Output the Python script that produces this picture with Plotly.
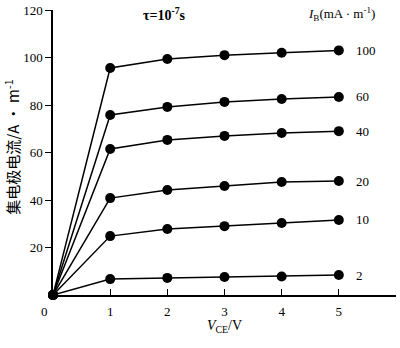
import plotly.graph_objects as go

vce = [0, 1, 2, 3, 4, 5]
ib_labels = ["100", "60", "40", "20", "10", "2"]
curves = {
    "100": [0, 95.6, 99.4, 101.0, 102.0, 103.0],
    "60":  [0, 75.8, 79.2, 81.3, 82.5, 83.4],
    "40":  [0, 61.5, 65.3, 67.0, 68.2, 69.0],
    "20":  [0, 40.8, 44.2, 45.9, 47.6, 48.0],
    "10":  [0, 24.8, 27.8, 29.0, 30.3, 31.6],
    "2":   [0, 6.7, 7.2, 7.6, 7.8, 8.4],
}
x_ticks = [1, 2, 3, 4, 5, 6]
x_ticktext = ["1", "2", "3", "4", "5", " "]
y_ticks = [20, 40, 60, 80, 100, 120]

FONT = "Liberation Serif, Times New Roman, serif"
fig = go.Figure()
for lab in ib_labels:
    fig.add_trace(go.Scatter(
        x=vce, y=curves[lab], mode="lines+markers",
        line=dict(color="black", width=1.5),
        marker=dict(color="black", size=10),
        showlegend=False, cliponaxis=False))
    fig.add_annotation(x=5.27, y=curves[lab][-1], text=lab, showarrow=False,
                       xanchor="left", yanchor="middle", font=dict(size=13, family=FONT, color="black"))

fig.update_xaxes(range=[0, 6], tickvals=x_ticks, ticktext=x_ticktext, ticks="inside", ticklen=6,
                 tickcolor="black", showline=True, linecolor="black", linewidth=1.5,
                 ticklabelstandoff=4,
                 showgrid=False, zeroline=False, tickfont=dict(size=13, family=FONT, color="black"))
fig.update_yaxes(range=[0, 120], tickvals=y_ticks, ticks="outside", ticklen=6,
                 tickcolor="black", showline=True, linecolor="black", linewidth=1.5,
                 showgrid=False, zeroline=False, tickfont=dict(size=13, family=FONT, color="black"))

fig.add_annotation(xref="paper", yref="paper", x=-0.025, y=-0.058, text="0", showarrow=False,
                   xanchor="center", yanchor="middle", font=dict(size=13, family=FONT, color="black"))
fig.add_annotation(xref="paper", yref="paper", x=0.325, y=0.985, text="<b>τ=10<sup>-7</sup>s</b>", showarrow=False,
                   xanchor="center", yanchor="middle", font=dict(size=14, family=FONT, color="black"))
fig.add_annotation(xref="paper", yref="paper", x=0.84, y=0.985, text="<i>I</i><sub>B</sub>(mA · m<sup>-1</sup>)", showarrow=False,
                   xanchor="center", yanchor="middle", font=dict(size=13, family=FONT, color="black"))
fig.add_annotation(xref="paper", yref="paper", x=0.5, y=-0.11, text="<i>V</i><sub>CE</sub>/V", showarrow=False,
                   xanchor="center", yanchor="middle", font=dict(size=14, family=FONT, color="black"))
fig.add_annotation(xref="paper", yref="paper", x=-0.12, y=0.52, text="集电极电流/A · m<sup>-1</sup>", showarrow=False,
                   textangle=-90, xanchor="center", yanchor="middle",
                   font=dict(size=15, family="Noto Sans CJK SC", color="black"))

fig.update_layout(width=400, height=348, margin=dict(l=53, r=2, t=10, b=53),
                  plot_bgcolor="white", paper_bgcolor="white")
fig.write_html("out.html")
